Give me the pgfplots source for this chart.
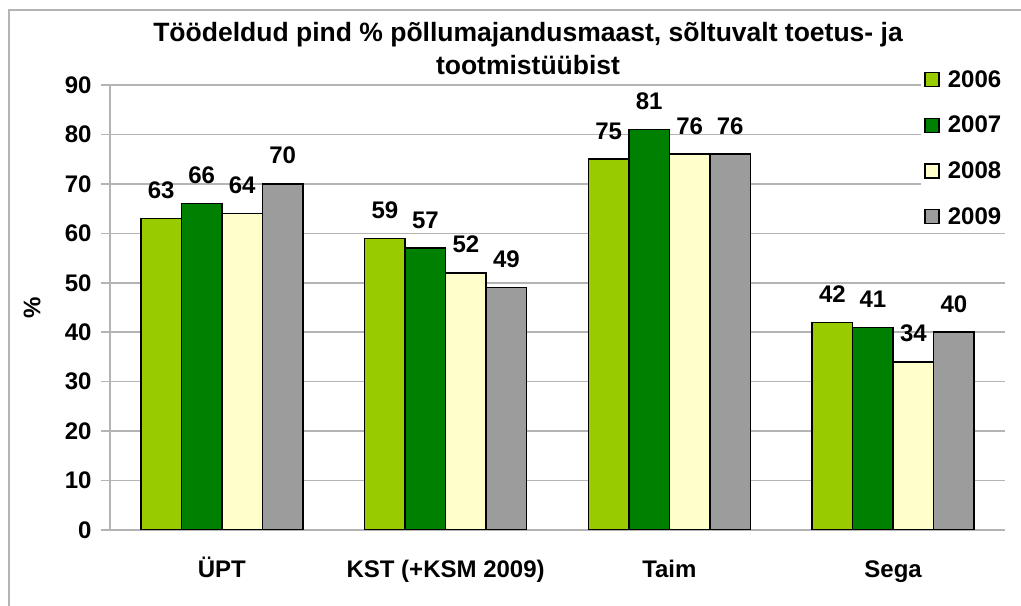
\documentclass[border=0pt]{standalone}
\usepackage{fontspec}
\setmainfont{Liberation Sans}
\usepackage{pgfplots}
\pgfplotsset{compat=1.18}
\definecolor{c6}{HTML}{99CC00}
\definecolor{c7}{HTML}{008000}
\definecolor{c8}{HTML}{FFFFCC}
\definecolor{c9}{HTML}{9C9C9C}
\definecolor{gridc}{HTML}{B4B4B4}
\newcommand{\bigf}{\bfseries\fontsize{24bp}{28bp}\selectfont}
\newcommand{\titf}{\bfseries\fontsize{26.5bp}{33bp}\selectfont}
\begin{document}
\begin{tikzpicture}
\useasboundingbox (0bp,0bp) rectangle (1021bp,606bp);
\draw[gridc, line width=1.5bp] (9bp,0bp) -- (9bp,596bp) -- (1021bp,596bp);
\node[font=\titf, anchor=base, inner sep=0pt] at (528bp,564.3bp) {Töödeldud pind \% põllumajandusmaast, sõltuvalt toetus- ja};
\node[font=\titf, anchor=base, inner sep=0pt] at (528bp,531bp) {tootmistüübist};
\begin{axis}[
  at={(110bp,76bp)}, anchor=south west, scale only axis,
  width=895bp, height=445bp,
  xmin=-0.5, xmax=3.5, ymin=0, ymax=90,
  ybar, bar width=0.181,
  ytick={0,10,...,90},
  xtick={0,1,2,3}, xticklabels={ÜPT, KST (+KSM 2009), Taim, Sega},
  axis x line*=bottom, axis y line*=left,
  axis line style={gridc, line width=1.5bp, -},
  ymajorgrids, grid style={gridc, line width=1.5bp},
  ytick style={gridc, line width=1.5bp}, tick align=outside, major tick length=9bp,
  xtick style={draw=none},
  ticklabel style={font=\bigf},
  yticklabel style={xshift=-6bp},
  xticklabel style={anchor=base, yshift=-38bp},
  /pgf/number format/assume math mode=true,
  ylabel={\%},
  every axis y label/.style={at={(rel axis cs:0,0.5)}, xshift=-78bp, rotate=90, anchor=center, font=\bigf},
  nodes near coords,
  every node near coord/.append style={font=\bigf, inner sep=0pt, yshift=19bp},
  legend style={at={(rel axis cs:0.906,1.042)}, anchor=north west, draw=none, fill=white, font=\bigf, row sep=23.4bp, legend cell align=left},
  legend image code/.code={\path[draw=none,fill=none] (0bp,0bp) -- (21bp,0bp); \draw[#1, draw=black, line width=1.5bp] (0bp,-7bp) rectangle (14bp,7bp);},
]
\addplot[fill=c6, draw=black, line width=1.5bp, bar shift=-0.2715] coordinates {(0,63) (1,59) (2,75) (3,42)};
\addplot[fill=c7, draw=black, line width=1.5bp, bar shift=-0.0905] coordinates {(0,66) (1,57) (2,81) (3,41)};
\addplot[fill=c8, draw=black, line width=1.5bp, bar shift=0.0905] coordinates {(0,64) (1,52) (2,76) (3,34)};
\addplot[fill=c9, draw=black, line width=1.5bp, bar shift=0.2715] coordinates {(0,70) (1,49) (2,76) (3,40)};
\legend{2006,2007,2008,2009}
\end{axis}
\end{tikzpicture}
\end{document}
